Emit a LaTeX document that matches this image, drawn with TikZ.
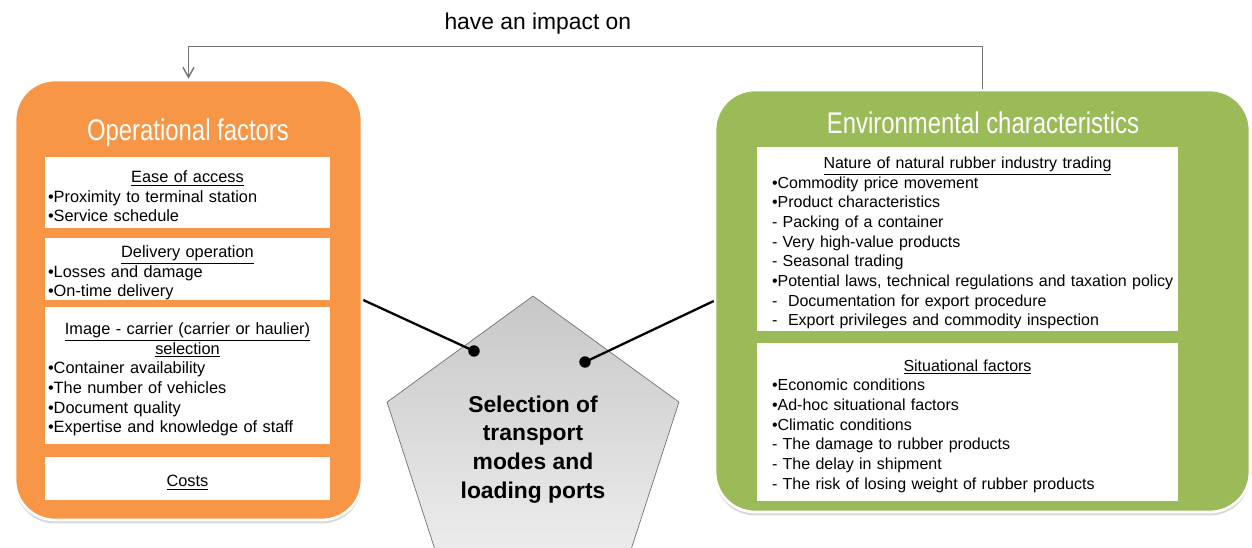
\documentclass[tikz,border=0pt]{standalone}
\usepackage{fontspec}
\setmainfont{Liberation Sans}
\usepackage{tikz}
\usetikzlibrary{arrows.meta,positioning,shapes.geometric,shadows}
\definecolor{narancs}{HTML}{F79646}
\definecolor{zold}{HTML}{9BBB59}
\newcommand{\alcim}[1]{\par\centerline{\underline{#1}}\par}
\newcommand{\szuk}[1]{\scalebox{0.8}[1]{#1}}
\tikzset{
  doboz/.style={draw=white,line width=1.5pt,rounded corners=0.8cm,
                drop shadow={opacity=0.3,shadow xshift=0pt,shadow yshift=-2pt}},
  focim/.style={text=white,font=\fontsize{17}{20}\selectfont},
  lap/.style={fill=white,inner ysep=0pt,align=left,font=\fontsize{9.3}{11.2}\selectfont},
  ballap/.style={lap,inner xsep=0.06cm,text width=5.58cm,minimum width=5.7cm},
  joblap/.style={lap,font=\fontsize{9.1}{11.2}\selectfont,inner xsep=0.3cm,text width=7.82cm,
                 minimum width=8.42cm},
  otszog/.style={regular polygon,regular polygon sides=5,draw=black!55,inner sep=0pt,outer sep=0pt,
                 top color=black!22,bottom color=black!6,minimum size=6.14cm,align=center,
                 font=\fontsize{13}{16.4}\selectfont\bfseries},
  kapocs/.style={line width=1.3pt},
  pont/.style={circle,fill,inner sep=2.3pt},
  nyil/.style={draw=black!55,line width=0.8pt,-{Straight Barb[length=2mm,width=2.2mm]}},
  cimke/.style={font=\fontsize{13}{15}\selectfont},
}

\begin{document}
\begin{tikzpicture}[x=0.02cm,y=-0.02cm]
  \clip (0,0) rectangle (1252,548);
  % the two groups of factors
  \node[doboz,fill=narancs,minimum width=6.94cm,minimum height=8.8cm] (op) at (188.5,300) {};
  \node[doboz,fill=zold,minimum width=10.7cm,minimum height=8.44cm] (gr) at (982.5,301) {};
  \node[focim] (opcim) at (188,133) {\szuk{Operational factors}};
  \node[focim] (grcim) at (983,123) {\szuk{Environmental characteristics}};

  \node[ballap,minimum height=1.42cm] (l1) at (187.5,192.5)
    {\alcim{Ease of access}•Proximity to terminal station\\•Service schedule};
  \node[ballap,minimum height=1.16cm] (l2) at (187.5,269)
    {\alcim{Delivery operation}•Losses and damage\\•On-time delivery};
  \node[ballap,minimum height=2.74cm] (l3) at (187.5,375.5)
    {\alcim{Image - carrier (carrier or haulier)}\alcim{selection}•Container availability\\
     •The number of vehicles\\•Document quality\\•Expertise and knowledge of staff};
  \node[ballap,minimum height=0.86cm] (l4) at (187.5,478.5) {\alcim{Costs}};

  \node[joblap,minimum height=3.68cm] (g1) at (967.5,239)
    {\alcim{Nature of natural rubber industry trading}•Commodity price movement\\
     •Product characteristics\\- Packing of a container\\- Very high-value products\\
     - Seasonal trading\\\mbox{•Potential laws, technical regulations and taxation policy}\\
     -\ \ Documentation for export procedure\\-\ \ Export privileges and commodity inspection};
  \node[joblap,minimum height=3.16cm] (g2) at (967.5,422)
    {\alcim{Situational factors}•Economic conditions\\•Ad-hoc situational factors\\
     •Climatic conditions\\- The damage to rubber products\\- The delay in shipment\\
     - The risk of losing weight of rubber products};

  % the selection in the middle
  \node[otszog] (sel) at (533,449.5) {Selection of\\transport\\modes and\\loading ports};
  \node[pont] (pl) at (474,351) {};
  \node[pont] (pr) at (585,362) {};
  \draw[kapocs] (op.east) -- (pl.center);
  \draw[kapocs] (gr.west) -- (pr.center);

  \draw[nyil] (gr.north) -- ++(0,-42) -| node[pos=0.28,above=1.2mm,cimke] (hatas) {have an impact on} (op.north);
\end{tikzpicture}
\end{document}
